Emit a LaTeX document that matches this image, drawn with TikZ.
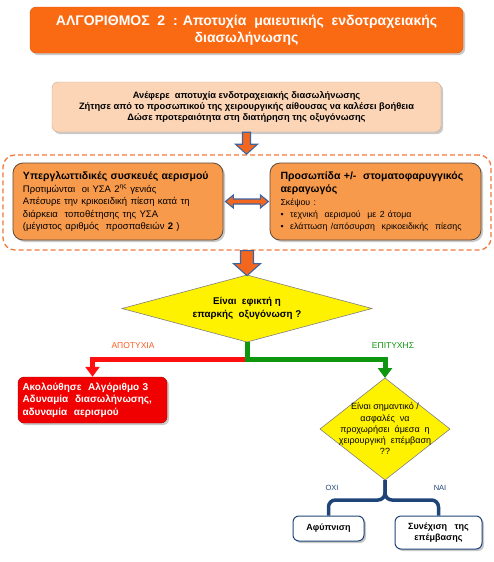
\documentclass[tikz,border=0pt]{standalone}
\usepackage{fontspec}
\setmainfont{Liberation Sans}
\usetikzlibrary{shapes.geometric,shadows,arrows.meta}

\definecolor{titleorange}{HTML}{FA6A12}
\definecolor{peach}{HTML}{FBD5B6}
\definecolor{boxorange}{HTML}{F89A4C}
\definecolor{boxline}{HTML}{5E4A3A}
\definecolor{dashorange}{HTML}{F07A3C}
\definecolor{arrowfill}{HTML}{F2661E}
\definecolor{arrowline}{HTML}{3D63A0}
\definecolor{failred}{HTML}{FF1010}
\definecolor{failtext}{HTML}{FF5A1F}
\definecolor{okgreen}{HTML}{0E960E}
\definecolor{redbox}{HTML}{F00000}
\definecolor{navy}{HTML}{1F4478}

\tikzset{
  softshadow/.style={drop shadow={shadow xshift=2pt, shadow yshift=-2pt, opacity=0.3, fill=black!70}},
  titlebox/.style={rounded corners=6pt, fill=titleorange, draw=titleorange!85!black,
    text=white, font=\fontsize{14}{17}\selectfont\bfseries, align=center, softshadow},
  notebox/.style={rounded corners=6pt, fill=peach, draw=peach!80!black,
    font=\fontsize{9.3}{11}\selectfont\bfseries, align=center, softshadow},
  groupbox/.style={rounded corners=12pt, draw=dashorange, line width=1.3pt,
    dash pattern=on 5pt off 3pt},
  choicebox/.style={rounded corners=10pt, fill=boxorange, draw=boxline, line width=0.8pt,
    inner sep=0pt, text width=190pt, align=left, softshadow},
  blockarrow/.style={fill=arrowfill, draw=arrowline, line width=1.1pt, line join=miter},
  decision/.style={diamond, fill=yellow, draw=gray, line width=0.6pt, inner sep=0pt,
    outer sep=0pt, align=center},
  alertbox/.style={rounded corners=6pt, fill=redbox, draw=redbox!70!black, text=white,
    font=\fontsize{10}{12.5}\selectfont\bfseries, align=left, text width=140pt,
    inner sep=0pt, softshadow},
  endbox/.style={rounded corners=6pt, fill=white, draw=navy, line width=1pt,
    font=\fontsize{9}{11.5}\selectfont\bfseries, align=center, inner sep=0pt, softshadow},
  failline/.style={draw=failred, line width=5pt, -{Triangle[width=14pt,length=10pt]}},
  okline/.style={draw=okgreen, line width=5pt, -{Triangle[width=14pt,length=10pt]}},
  navyline/.style={draw=navy, line width=3.5pt, rounded corners=7pt}
}

\begin{document}
\begin{tikzpicture}[x=1pt,y=-1pt]
\useasboundingbox (0,0) rectangle (494,562);

% title and first steps
\node[titlebox, minimum width=433pt, minimum height=46pt] (title) at (246.5,30)
  {ΑΛΓΟΡΙΘΜΟΣ\ \ 2\ \ : Αποτυχία\ \ μαιευτικής\ \ ενδοτραχειακής\\ διασωλήνωσης};
\node[notebox, minimum width=389pt, minimum height=50pt] (note) at (246.5,107)
  {Ανέφερε\ \ αποτυχία ενδοτραχειακής διασωλήνωσης\\
   Ζήτησε από το προσωπικού της χειρουργικής αίθουσας να καλέσει βοήθεια\\
   Δώσε προτεραιότητα στη διατήρηση της οξυγόνωσης};

% ventilation options
\node[groupbox, minimum width=488pt, minimum height=95pt] (group) at (247,202.5) {};
\node[choicebox, minimum width=210pt, minimum height=77pt] (sga) at (118,201.5)
  {\fontsize{10.5}{13}\selectfont\textbf{Υπεργλωττιδικές συσκευές αερισμού}\\
   \fontsize{9.5}{12.5}\selectfont
   Προτιμώνται\ \ οι ΥΣΑ 2\textsuperscript{ης} γενιάς\\
   Απέσυρε την κρικοειδική πίεση κατά τη\\
   διάρκεια\ \ τοποθέτησης της ΥΣΑ\\
   (μέγιστος αριθμός\ \ προσπαθειών \textbf{2} )};
\node[choicebox, minimum width=211pt, minimum height=77pt] (mask) at (375.5,201.5)
  {\fontsize{10.5}{13.5}\selectfont\textbf{Προσωπίδα +/-\ \ στοματοφαρυγγικός\\ αεραγωγός}\\
   \fontsize{8.8}{12.5}\selectfont
   Σκέψου :\\
   \textbullet\ \ τεχνική\ \ αερισμού\ \ με 2 άτομα\\
   \textbullet\ \ ελάττωση /απόσυρση\ \ κρικοειδικής\ \ πίεσης};

\draw[blockarrow] ([xshift=-4pt]note.south) -- ++(0,12) -- ++(-7,0) -- ++(11,10)
  -- ++(11,-10) -- ++(-7,0) -- ++(0,-12) -- cycle;
\draw[blockarrow] ([xshift=2pt]sga.east) -- ++(8,-6.5) -- ++(0,4) -- ++(27,0) -- ++(0,-4)
  -- ++(8,6.5) -- ++(-8,6.5) -- ++(0,-4) -- ++(-27,0) -- ++(0,4) -- cycle;

% oxygenation decision
\node[decision, aspect=3.7, minimum width=250pt, minimum height=67pt,
  font=\fontsize{9.8}{13}\selectfont\bfseries] (oxy) at (247,308.5)
  {Είναι\ \ εφικτή η\\ επαρκής\ \ οξυγόνωση ?};
\draw[blockarrow] ([xshift=-6.5pt]group.south) -- ++(0,13) -- ++(-7,0) -- ++(13.5,12)
  -- ++(13.5,-12) -- ++(-7,0) -- ++(0,-13) -- cycle;

\node[alertbox, minimum width=149pt, minimum height=46pt] (plan3) at (92.5,400)
  {Ακολούθησε\ \ Αλγόριθμο 3\\ Αδυναμία\ \ διασωλήνωσης,\\ αδυναμία\ \ αερισμού};
\node[decision, minimum width=130pt, minimum height=102pt] (surg) at (385,429) {};
\node[font=\fontsize{9}{11.3}\selectfont, align=center] (surgtext) at (surg.center)
  {Είναι σημαντικό /\\ ασφαλές\ \ να\\ προχωρήσει\ \ άμεσα\ \ η\\ χειρουργική\ \ επέμβαση\\ ??};

\coordinate (split) at (247,359);
\draw[failline] (split) -| (plan3.north);
\draw[okline] (oxy.south) -- (split) -| (surg.north);
\node[text=failtext, font=\fontsize{8.5}{10}\selectfont] (fail) at (133,346) {ΑΠΟΤΥΧΙΑ};
\node[text=okgreen, font=\fontsize{8.5}{10}\selectfont] (ok) at (393,346) {ΕΠΙΤΥΧΗΣ};

% surgery decision
\node[endbox, minimum width=71pt, minimum height=25pt] (wake) at (328.5,528.5) {Αφύπνιση};
\node[endbox, minimum width=87pt, minimum height=33pt] (go) at (438.5,532.5)
  {Συνέχιση\ \ \ της\\ επέμβασης};
\draw[navyline] (surg.south) -- ++(0,20) -| (wake.north);
\draw[navyline] (surg.south) -- ++(0,20) -| (go.north);
\node[text=navy, font=\fontsize{7.5}{9}\selectfont] (no) at (332,488) {ΟΧΙ};
\node[text=navy, font=\fontsize{7.5}{9}\selectfont] (yes) at (440,488) {ΝΑΙ};
\end{tikzpicture}
\end{document}
